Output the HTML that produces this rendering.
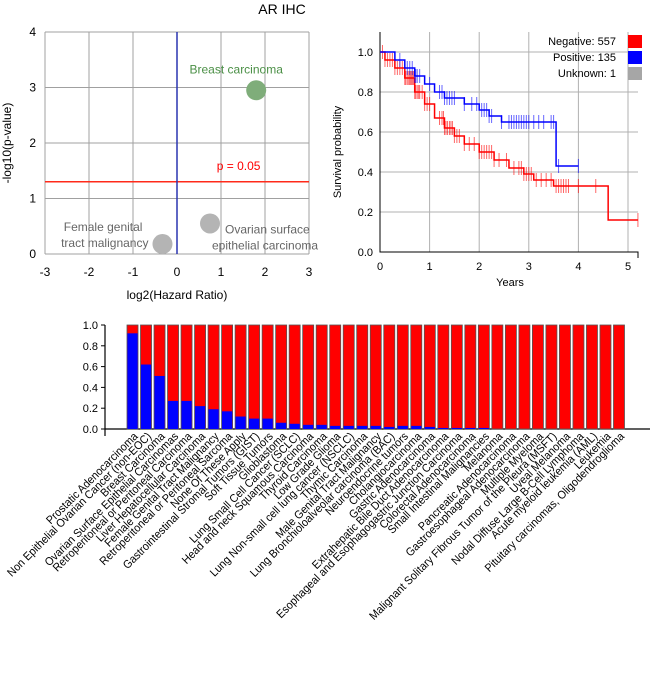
<!DOCTYPE html>
<html><head><meta charset="utf-8"><style>
body{margin:0;background:#fff;font-family:"Liberation Sans",sans-serif;}
svg text{font-family:"Liberation Sans",sans-serif;}
</style></head><body>
<svg id="root" width="650" height="670" viewBox="0 0 650 670">
<text x="282" y="14" font-size="14" text-anchor="middle">AR IHC</text>
<g id="scatter"></g>
<g id="km"></g>
<g id="bars"></g>
</svg>
<script>
const NS="http://www.w3.org/2000/svg";
function mk(tag,attrs,parent,text){const e=document.createElementNS(NS,tag);for(const k in attrs)e.setAttribute(k,attrs[k]);if(text!==undefined)e.textContent=text;parent.appendChild(e);return e;}

// ---------- scatter data ----------
const scNames=["Breast carcinoma","Ovarian surface epithelial carcinoma","Female genital tract malignancy"];
const scHR=[1.8,0.75,-0.33];
const scP=[2.95,0.55,0.18];
const scColors=["#7fad7a","#b4b4b4","#b4b4b4"];
const scXTicks=[-3,-2,-1,0,1,2,3];
const scYTicks=[0,1,2,3,4];

// ---------- KM data ----------
const redT=[0,0.1,0.3,0.5,0.7,0.9,1.1,1.3,1.5,1.7,2.0,2.3,2.6,2.9,3.1,3.5,4.6];
const redS=[1,0.96,0.92,0.87,0.80,0.74,0.67,0.62,0.58,0.54,0.50,0.46,0.42,0.39,0.36,0.33,0.16];
const redEnd=5.2;
const redCens=[0.05,0.1,0.15,0.2,0.25,0.3,0.35,0.4,0.45,0.5,0.52,0.55,0.58,0.6,0.62,0.64,0.66,0.68,0.7,0.72,0.75,0.78,0.8,0.85,0.9,0.95,1.0,1.2,1.25,1.28,1.3,1.33,1.36,1.4,1.43,1.46,1.5,1.55,1.6,1.7,1.8,1.9,2.0,2.05,2.1,2.15,2.2,2.25,2.3,2.4,2.55,2.7,2.8,2.85,2.9,2.95,3.0,3.05,3.15,3.25,3.35,3.45,3.55,3.6,3.65,3.7,3.75,3.8,4.0,4.35,5.2];
const blueT=[0,0.3,0.5,0.7,0.9,1.1,1.3,1.7,2.0,2.2,2.45,3.55];
const blueS=[1,0.96,0.92,0.88,0.84,0.80,0.77,0.74,0.71,0.68,0.65,0.43];
const blueEnd=4.0;
const blueCens=[0.4,0.55,0.6,0.65,0.7,0.72,0.75,0.8,1.0,1.2,1.25,1.3,1.35,1.4,1.45,1.5,1.7,1.85,1.95,2.05,2.1,2.15,2.2,2.25,2.45,2.6,2.65,2.7,2.75,2.8,2.85,2.9,2.95,3.0,3.1,3.2,3.3,3.45,3.5,3.6,4.0];
const kmXTicks=[0,1,2,3,4,5];
const kmYTicks=[0,0.2,0.4,0.6,0.8,1.0];
const kmLegend=["Negative: 557","Positive: 135","Unknown: 1"];
const kmLegColors=["#ff0000","#0000ff","#a6a6a6"];

// ---------- bar data ----------
const cats=["Prostatic Adenocarcinoma","Non Epithelial Ovarian Cancer (non-EOC)","Breast Carcinoma","Ovarian Surface Epithelial Carcinomas","Retroperitoneal or Peritoneal Carcinoma","Liver Hepatocellular Carcinoma","Female Genital Tract Malignancy","Retroperitoneal or Peritoneal Sarcoma","None Of These Apply","Gastrointestinal Stromal Tumors (GIST)","Soft Tissue Tumors","Glioblastoma","Lung Small Cell Cancer (SCLC)","Head and neck Squamous Carcinoma","Thyroid Carcinoma","Low Grade Glioma","Lung Non-small cell lung cancer (NSCLC)","Thymic Carcinoma","Male Genital Tract Malignancy","Lung Bronchioloalveolar carcinoma (BAC)","Neuroendocrine tumors","Cholangiocarcinoma","Gastric Adenocarcinoma","Extrahepatic Bile Duct Adenocarcinoma","Esophageal and Esophagogastric Junction Carcinoma","Colorectal Adenocarcinoma","Small Intestinal Malignancies","Melanoma","Pancreatic Adenocarcinoma","Gastroesophageal Adenocarcinoma","Multiple Myeloma","Malignant Solitary Fibrous Tumor of the Pleura (MSFT)","Uveal Melanoma","Nodal Diffuse Large B-Cell Lymphoma","Acute myeloid leukemia (AML)","Leukemia","Pituitary carcinomas, Oligodendroglioma"];
const posFrac=[0.92,0.62,0.51,0.27,0.27,0.22,0.19,0.17,0.12,0.10,0.10,0.06,0.05,0.04,0.04,0.03,0.03,0.03,0.03,0.02,0.03,0.03,0.02,0.01,0.01,0.01,0.01,0,0,0,0,0,0,0,0,0,0];
const barYTicks=[0,0.2,0.4,0.6,0.8,1.0];

// ===== scatter =====
(function(){
const g=document.getElementById('scatter');
const X=v=>45+(v+3)*44, Y=v=>254-v*55.5;
scXTicks.forEach(t=>{const l=mk('line',{x1:X(t),x2:X(t),y1:Y(4),y2:Y(0),stroke:'#a0a0a0','stroke-width':1},g);
const tx=mk('text',{x:X(t),y:276,'font-size':12,'text-anchor':'middle'},g,String(t));});
scYTicks.forEach(t=>{const l=mk('line',{x1:X(-3),x2:X(3),y1:Y(t),y2:Y(t),stroke:'#a0a0a0','stroke-width':1},g);
const tx=mk('text',{x:36,y:Y(t)+4,'font-size':12,'text-anchor':'end'},g,String(t));});
const pl=mk('line',{x1:X(-3),x2:X(3),y1:Y(1.301),y2:Y(1.301),stroke:'#ff2a1a','stroke-width':1.5},g);
const pt=mk('text',{x:X(1.4),y:Y(1.301)-12,'font-size':12,fill:'#ff0000','text-anchor':'middle'},g,'p = 0.05');
const vl=mk('line',{x1:X(0),x2:X(0),y1:Y(4),y2:Y(0),stroke:'#2a35b0','stroke-width':1.5},g);
scNames.forEach((n,i)=>{const c=mk('circle',{cx:X(scHR[i]),cy:Y(scP[i]),r:10,fill:scColors[i]},g);});
const lb=(txt,x,y,col,a)=>{const t=mk('text',{x:x,y:y,'font-size':12,fill:col,'text-anchor':a},g,txt);};
lb('Breast carcinoma',X(scHR[0])-20,Y(scP[0])-17,'#4a8f45','middle');
lb('Ovarian surface',X(scHR[1])+15,Y(scP[1])+10,'#666','start');
lb('epithelial carcinoma',X(scHR[1])+2,Y(scP[1])+26,'#666','start');
lb('Female genital',X(scHR[2])-20,Y(scP[2])-13,'#666','end');
lb('tract malignancy',X(scHR[2])-14,Y(scP[2])+3,'#666','end');
const xt=mk('text',{x:177,y:299,'font-size':12,'text-anchor':'middle'},g,'log2(Hazard Ratio)');
const yt=mk('text',{x:0,y:0,'font-size':12,'text-anchor':'middle',transform:'translate(11,143) rotate(-90)'},g,'-log10(p-value)');
})();

// ===== KM =====
(function(){
const g=document.getElementById('km');
const X=v=>380+v*49.6, Y=v=>252-v*200;
kmXTicks.forEach(t=>{if(t>0){const l=mk('line',{x1:X(t),x2:X(t),y1:32,y2:252,stroke:'#b0b0b0','stroke-width':1},g);}
const tx=mk('text',{x:X(t),y:270,'font-size':11,'text-anchor':'middle'},g,String(t));});
kmYTicks.forEach(t=>{if(t>0){const l=mk('line',{x1:X(0),x2:638,y1:Y(t),y2:Y(t),stroke:'#b0b0b0','stroke-width':1},g);}
const tx=mk('text',{x:373,y:Y(t)+4,'font-size':11,'text-anchor':'end'},g,t.toFixed(1));});
const ax=mk('path',{d:`M380,32 V252 H638 V258`,fill:'none',stroke:'#000','stroke-width':1},g);
function surv(T,S,t){let s=S[0];for(let i=0;i<T.length;i++)if(T[i]<=t)s=S[i];return s;}
function curve(T,S,end,cens,col,name){
 let d=`M${X(T[0])},${Y(S[0])}`;for(let i=1;i<T.length;i++)d+=` H${X(T[i])} V${Y(S[i])}`;d+=` H${X(end)}`;
 const p=mk('path',{d:d,fill:'none',stroke:col,'stroke-width':1.5},g);
 cens.forEach(c=>{const y=Y(surv(T,S,c));const l=mk('line',{x1:X(c),x2:X(c),y1:y-7,y2:y+7,stroke:col,'stroke-width':1,'stroke-opacity':0.6},g);});
}
curve(redT,redS,redEnd,redCens,'#ff0000','negative');
curve(blueT,blueS,blueEnd,blueCens,'#0000ff','positive');
kmLegend.forEach((s,i)=>{const t=mk('text',{x:616,y:45+i*16,'font-size':11,'text-anchor':'end'},g,s);
const r=mk('rect',{x:628,y:35+i*16,width:14,height:13,fill:kmLegColors[i]},g);});
const xt=mk('text',{x:510,y:286,'font-size':11,'text-anchor':'middle'},g,'Years');
const yt=mk('text',{x:0,y:0,'font-size':11,'text-anchor':'middle',transform:'translate(341,152) rotate(-90)'},g,'Survival probability');
})();

// ===== bars =====
(function(){
const g=document.getElementById('bars');
const Y=v=>429-v*104;
const x0=127, pitch=500/cats.length, bw=pitch-2.5;
const ax=mk('path',{d:`M105,325 V436 M105,${Y(0)} H650`,fill:'none',stroke:'#000','stroke-width':1.2},g);
barYTicks.forEach(t=>{const l=mk('line',{x1:101,x2:105,y1:Y(t),y2:Y(t),stroke:'#000'},g);
const tx=mk('text',{x:98,y:Y(t)+4,'font-size':11,'text-anchor':'end'},g,t.toFixed(1));});
cats.forEach((c,i)=>{const x=x0+i*pitch;
 const r=mk('rect',{x:x,y:Y(1),width:bw,height:Y(0)-Y(1),fill:'#ff0000',stroke:'#555','stroke-width':0.8},g);
 if(posFrac[i]>0){const b=mk('rect',{x:x+0.4,y:Y(posFrac[i]),width:bw-0.8,height:Y(0)-Y(posFrac[i]),fill:'#0000ff'},g);}
 const cx=x+bw/2+6;
 const t=mk('text',{x:0,y:0,'font-size':11.5,'text-anchor':'end',transform:`translate(${cx},437) rotate(-45) scale(0.93,1)`},g,c);
});
})();
</script>
</body></html>
